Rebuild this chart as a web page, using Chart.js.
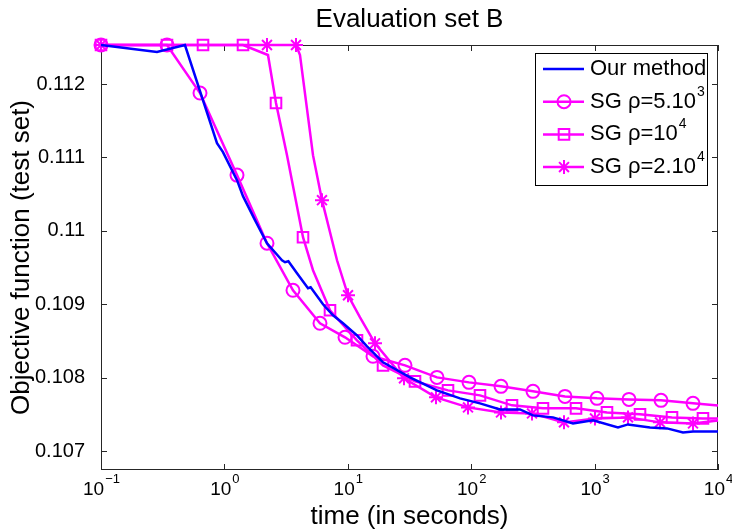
<!DOCTYPE html>
<html lang="en">
<head>
  <meta charset="UTF-8" />
  <title>Evaluation set B</title>
  <script src="https://cdn.jsdelivr.net/npm/chart.js"></script>
  <style>
    body { margin: 0; background: #fff; }
  </style>
</head>
<body>
  <canvas id="chart" width="732" height="532"></canvas>

  <script>
    // values (time in seconds, objective on the test set)
    const ourTime = [0.1, 0.284, 0.479, 0.871, 0.974, 1.265, 1.415, 1.77, 2.214, 2.93, 3.098, 3.3, 3.876, 4.76, 5.0, 6.295, 7.59, 9.144, 11.87, 14.31, 19.29, 31.92, 52.82, 81.16, 117.8, 171.2, 248.6, 316.8, 460.2, 668.3, 970.5, 1547, 1865, 2810, 3862, 5204, 6272, 10000];
    const ourValue = [0.112532, 0.112436, 0.112532, 0.111195, 0.111072, 0.110690, 0.110472, 0.110145, 0.109831, 0.109599, 0.109572, 0.109586, 0.109422, 0.109217, 0.109231, 0.108999, 0.108849, 0.108740, 0.108576, 0.108426, 0.108208, 0.108003, 0.107826, 0.107717, 0.107649, 0.107567, 0.107567, 0.107485, 0.107458, 0.107376, 0.107417, 0.107321, 0.107362, 0.107321, 0.107308, 0.107253, 0.107267, 0.107267];

    const sgATime = [0.1, 0.3425, 0.6343, 1.265, 2.214, 3.596, 5.951, 9.491, 16.0, 29.07, 52.82, 96.0, 174.4, 316.8, 575.6, 1046, 1900, 3452, 6272, 10000];
    const sgAValue = [0.112532, 0.112532, 0.111877, 0.110759, 0.109831, 0.109190, 0.108740, 0.108549, 0.108290, 0.108167, 0.108003, 0.107935, 0.107881, 0.107813, 0.107744, 0.107717, 0.107703, 0.107690, 0.107649, 0.107621];
    const sgANoMarker = [19];

    const sgBTime = [0.1, 0.3425, 0.6708, 1.415, 2.256, 2.619, 3.216, 4.335, 5.224, 7.173, 11.87, 19.29, 35.04, 64.86, 117.8, 214.1, 381.7, 706.8, 1260, 2333, 4239, 7556, 10000];
    const sgBValue = [0.112532, 0.112532, 0.112532, 0.112532, 0.112396, 0.111741, 0.111031, 0.109913, 0.109463, 0.108917, 0.108508, 0.108167, 0.107949, 0.107826, 0.107758, 0.107622, 0.107581, 0.107581, 0.107526, 0.107499, 0.107458, 0.107444, 0.107444];
    const sgBNoMarker = [4, 6, 8, 22];

    const sgCTime = [0.1, 2.214, 3.804, 4.098, 5.224, 6.178, 8.178, 10.04, 12.56, 16.61, 28.54, 51.84, 94.2, 174.4, 311.0, 564.9, 1007, 1865, 3388, 6272, 10000];
    const sgCValue = [0.112532, 0.112532, 0.112532, 0.112396, 0.111031, 0.110418, 0.109599, 0.109122, 0.108822, 0.108467, 0.107990, 0.107731, 0.107594, 0.107526, 0.107512, 0.107390, 0.107444, 0.107458, 0.107390, 0.107376, 0.107417];
    const sgCNoMarker = [3, 4, 6, 8, 20];

    const legendText = ['Our method', 'SG \u03c1=5.10', 'SG \u03c1=10', 'SG \u03c1=2.10'];
    const legendSup = ['', '3', '4', '4'];

    const xTicks = [0.1, 1, 10, 100, 1000, 10000];
    const xTickExp = ['\u22121', '0', '1', '2', '3', '4'];
    const yTicks = [0.107, 0.108, 0.109, 0.110, 0.111, 0.112];
    const yTickLabels = ['0.107', '0.108', '0.109', '0.11', '0.111', '0.112'];

    const FONT = "'Liberation Sans', Arial, sans-serif";
    const MAGENTA = '#ff00ff';
    const BLUE = '#0000ff';

    const toPoints = (xs, ys) => xs.map((t, i) => ({ x: t, y: ys[i] }));
    const markerRadius = (skip, r) => ctx => skip.includes(ctx.dataIndex) ? 0 : r;

    // axes box, inward ticks, x tick labels with exponents, title and legend
    const frame = {
      id: 'frame',
      beforeDatasetsDraw(chart) {
        const { ctx, chartArea: a, scales: { x, y } } = chart;
        ctx.save();
        ctx.strokeStyle = '#262626';
        ctx.lineWidth = 1;
        ctx.strokeRect(a.left + 0.5, a.top + 0.5, a.right - a.left - 1, a.bottom - a.top - 1);
        ctx.beginPath();
        xTicks.forEach(v => {
          const px = Math.round(x.getPixelForValue(v)) + 0.5;
          ctx.moveTo(px, a.bottom); ctx.lineTo(px, a.bottom - 6);
          ctx.moveTo(px, a.top); ctx.lineTo(px, a.top + 6);
        });
        yTicks.forEach(v => {
          const py = Math.round(y.getPixelForValue(v)) + 0.5;
          ctx.moveTo(a.left, py); ctx.lineTo(a.left + 6, py);
          ctx.moveTo(a.right, py); ctx.lineTo(a.right - 6, py);
        });
        ctx.stroke();
        ctx.restore();
      },
      afterDraw(chart) {
        const { ctx, chartArea: a, scales: { x } } = chart;
        ctx.save();
        ctx.fillStyle = '#000';

        // x tick labels: 10 with a raised exponent, centred as one string
        xTicks.forEach((v, i) => {
          const px = x.getPixelForValue(v);
          ctx.font = '19px ' + FONT;
          const wb = ctx.measureText('10').width;
          ctx.font = '13px ' + FONT;
          const we = ctx.measureText(xTickExp[i]).width;
          const x0 = px - (wb + we) / 2;
          ctx.textAlign = 'left';
          ctx.textBaseline = 'alphabetic';
          ctx.font = '19px ' + FONT;
          ctx.fillText('10', x0, 495);
          ctx.font = '13px ' + FONT;
          ctx.fillText(xTickExp[i], x0 + wb + 1, 483);
        });

        // title
        ctx.font = '26px ' + FONT;
        ctx.textAlign = 'center';
        ctx.textBaseline = 'alphabetic';
        ctx.fillText('Evaluation set B', (a.left + a.right) / 2, 27);

        // legend
        const lx = 535, ly = 53, lw = 172, lh = 132;
        ctx.fillStyle = '#fff';
        ctx.fillRect(lx, ly, lw, lh);
        ctx.strokeStyle = '#000';
        ctx.lineWidth = 1;
        ctx.strokeRect(lx + 0.5, ly + 0.5, lw, lh);
        chart.data.datasets.forEach((ds, i) => {
          const ry = 69 + i * 32.7;
          ctx.strokeStyle = ds.borderColor;
          ctx.lineWidth = 2.5;
          ctx.beginPath();
          ctx.moveTo(543, ry); ctx.lineTo(584, ry);
          ctx.stroke();
          if (ds.pointStyle) {
            ctx.fillStyle = ds.backgroundColor;
            ctx.lineWidth = 2;
            Chart.helpers.drawPoint(ctx, {
              pointStyle: ds.pointStyle, radius: ds.legendRadius, rotation: 0, borderWidth: 2
            }, 564, ry);
          }
          ctx.fillStyle = '#000';
          ctx.textAlign = 'left';
          ctx.textBaseline = 'middle';
          ctx.font = '22px ' + FONT;
          ctx.fillText(legendText[i], 590, ry);
          if (legendSup[i]) {
            const w = ctx.measureText(legendText[i]).width;
            ctx.font = '14px ' + FONT;
            ctx.fillText(legendSup[i], 590 + w + 1, ry - 10);
          }
        });
        ctx.restore();
      }
    };

    new Chart(document.getElementById('chart'), {
      type: 'line',
      data: {
        datasets: [
          {
            label: 'Our method',
            data: toPoints(ourTime, ourValue),
            borderColor: BLUE,
            borderWidth: 2.5,
            pointRadius: 0,
            pointStyle: false
          },
          {
            label: 'SG \u03c1=5.10\u00b3',
            data: toPoints(sgATime, sgAValue),
            borderColor: MAGENTA,
            backgroundColor: 'rgba(0,0,0,0)',
            borderWidth: 2.5,
            pointStyle: 'circle',
            pointRadius: markerRadius(sgANoMarker, 6.5),
            legendRadius: 6.5,
            pointBorderWidth: 2
          },
          {
            label: 'SG \u03c1=10\u2074',
            data: toPoints(sgBTime, sgBValue),
            borderColor: MAGENTA,
            backgroundColor: 'rgba(0,0,0,0)',
            borderWidth: 2.5,
            pointStyle: 'rect',
            pointRadius: markerRadius(sgBNoMarker, 7.5),
            legendRadius: 7.5,
            pointBorderWidth: 2
          },
          {
            label: 'SG \u03c1=2.10\u2074',
            data: toPoints(sgCTime, sgCValue),
            borderColor: MAGENTA,
            backgroundColor: MAGENTA,
            borderWidth: 2.5,
            pointStyle: 'star',
            pointRadius: markerRadius(sgCNoMarker, 7),
            legendRadius: 7,
            pointBorderWidth: 2
          }
        ]
      },
      options: {
        responsive: false,
        animation: false,
        clip: false,
        layout: { padding: { top: 45, right: 14, left: 0, bottom: 0 } },
        plugins: {
          legend: { display: false },
          title: { display: false },
          tooltip: { enabled: false }
        },
        elements: { line: { tension: 0 } },
        scales: {
          x: {
            type: 'logarithmic',
            min: 0.1,
            max: 10000,
            grid: { display: false },
            border: { display: false },
            ticks: { display: false },
            title: {
              display: true,
              text: 'time (in seconds)',
              font: { family: FONT, size: 26 },
              color: '#000',
              padding: { top: 0, bottom: 0 }
            },
            afterFit: s => { s.height = 62; }
          },
          y: {
            min: 0.106741,
            max: 0.112532,
            grid: { display: false },
            border: { display: false },
            afterBuildTicks: s => { s.ticks = yTicks.map(v => ({ value: v })); },
            ticks: {
              padding: 8,
              color: '#000',
              font: { family: FONT, size: 20 },
              callback: (v, i) => yTickLabels[i]
            },
            title: {
              display: true,
              text: 'Objective function (test set)',
              font: { family: FONT, size: 26 },
              color: '#000',
              padding: { top: 6, bottom: 0 }
            },
            afterFit: s => { s.width = 101; }
          }
        }
      },
      plugins: [frame]
    });
  </script>
</body>
</html>
